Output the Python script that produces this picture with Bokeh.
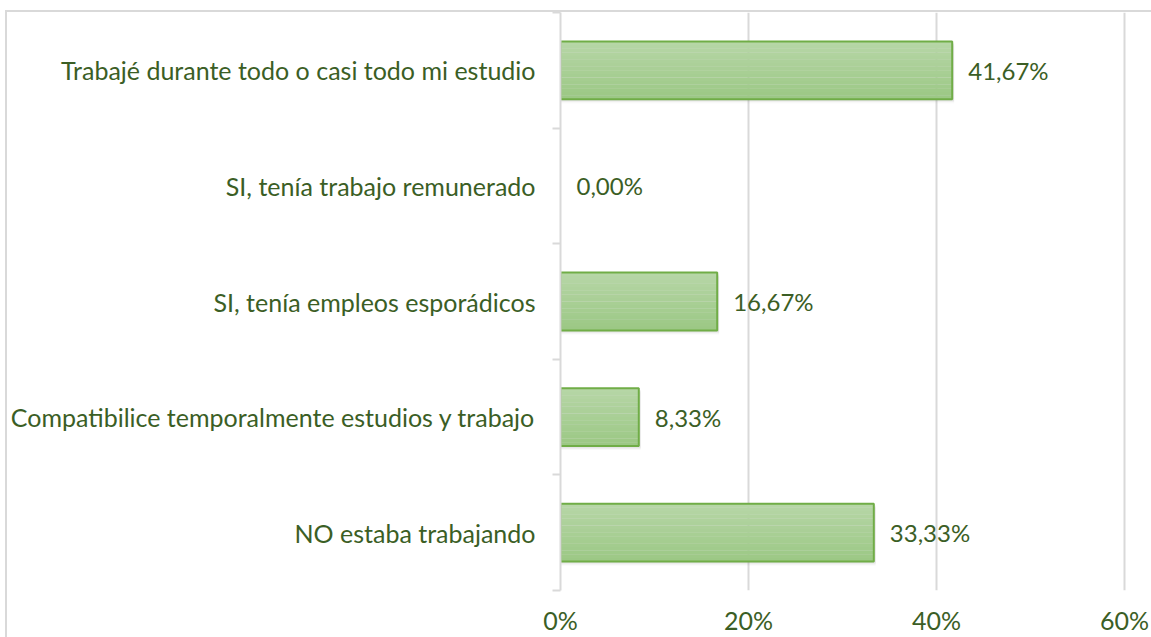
from bokeh.plotting import figure
from bokeh.models import FixedTicker, NumeralTickFormatter, ColumnDataSource, Range1d
from bokeh.core.properties import value
from bokeh.embed import file_html
from bokeh.resources import INLINE

categories = [
    "Trabajé durante todo o casi todo mi estudio",
    "SI, tenía trabajo remunerado",
    "SI, tenía empleos esporádicos",
    "Compatibilice temporalmente estudios y trabajo",
    "NO estaba trabajando",
]
values = [0.4167, 0.0, 0.1667, 0.0833, 0.3333]
value_labels = ["41,67%", "0,00%", "16,67%", "8,33%", "33,33%"]
x_ticks = [0, 0.2, 0.4, 0.6]

FONT = "Lato"
FS = "25px"
TXT = "#3b5e25"
GRID = "#d9d9d9"

n = len(categories)
ypos = [n - 0.5 - i for i in range(n)]

p = figure(width=1144, height=625, output_backend="svg", toolbar_location=None,
           x_range=Range1d(0, 0.6287), y_range=Range1d(0, n),
           min_border_left=553, min_border_top=0, min_border_right=0,
           min_border_bottom=47)
p.styles = {"outline": "2px solid #d9d9d9", "margin-top": "12px", "margin-left": "7px"}
p.outline_line_color = None
p.background_fill_color = "white"
p.border_fill_color = "white"

# shadow
bh = 0.5
for off, a in [(0.035, 0.05), (0.025, 0.08), (0.015, 0.10)]:
    p.hbar(y=[y - off for y in ypos], left=0, right=[v + 0.002 if v > 0 else 0 for v in values],
           height=bh, fill_color="#808080", fill_alpha=[a if v > 0 else 0 for v in values],
           line_color=None)

# gradient strips
top = (0xb6, 0xd6, 0xa6)
bot = (0x9c, 0xc8, 0x85)
N = 16
for k in range(N):
    t = k / (N - 1)
    c = "#%02x%02x%02x" % tuple(int(round(top[i] + (bot[i] - top[i]) * t)) for i in range(3))
    h = bh / N
    p.hbar(y=[y + bh / 2 - h * (k + 0.5) for y in ypos], left=0, right=values,
           height=h * 1.05, fill_color=c, line_color=None)

# bar outline
src = ColumnDataSource(dict(y=ypos, v=values, lab=value_labels,
                            la=[1.0 if v > 0 else 0.0 for v in values]))
p.hbar(y="y", left=0, right="v", height=bh, source=src, fill_color=None,
       line_color="#70ad47", line_alpha="la", line_width=2)

p.text(x="v", y="y", text="lab", source=src, x_offset=16, text_align="left",
       text_baseline="middle", text_font=value(FONT), text_font_size="24px",
       text_color=TXT)

# grid
p.ygrid.grid_line_color = None
p.xgrid.ticker = FixedTicker(ticks=x_ticks)
p.xgrid.grid_line_color = GRID
p.xgrid.grid_line_width = 2

# x axis
p.xaxis.ticker = FixedTicker(ticks=x_ticks)
p.xaxis.formatter = NumeralTickFormatter(format="0%")
p.xaxis.axis_line_color = None
p.xaxis.major_tick_line_color = None
p.xaxis.minor_tick_line_color = None
p.xaxis.major_tick_out = 0
p.xaxis.major_label_text_font = FONT
p.xaxis.major_label_text_font_size = FS
p.xaxis.major_label_text_color = TXT
p.xaxis.major_label_standoff = 14

# y axis
p.yaxis.ticker = FixedTicker(ticks=ypos, minor_ticks=list(range(n + 1)))
p.yaxis.major_label_overrides = {y: c for y, c in zip(ypos, categories)}
p.yaxis.axis_line_color = GRID
p.yaxis.axis_line_width = 2
p.yaxis.major_tick_line_color = None
p.yaxis.minor_tick_line_color = GRID
p.yaxis.minor_tick_line_width = 2
p.yaxis.minor_tick_out = 8
p.yaxis.minor_tick_in = 0
p.yaxis.major_label_text_font = FONT
p.yaxis.major_label_text_font_size = FS
p.yaxis.major_label_text_color = TXT
p.yaxis.major_label_standoff = 17

open("out.html", "w").write(file_html(p, INLINE))
